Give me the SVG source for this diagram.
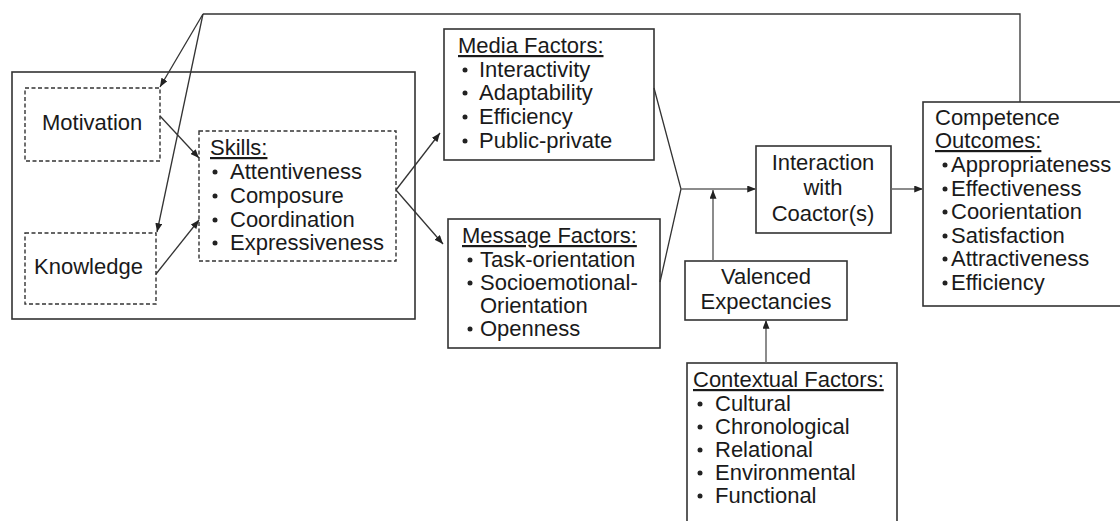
<svg xmlns="http://www.w3.org/2000/svg" width="1120" height="521" viewBox="0 0 1120 521">
<defs>
<style>
.t{font-family:"Liberation Sans",Arial,sans-serif;font-size:22px;fill:#1a1a1a}
.u{text-decoration:underline}
.c{text-anchor:middle}
.box{fill:#fff;stroke:#333;stroke-width:1.6}
.dbox{fill:#fff;stroke:#333;stroke-width:1.4;stroke-dasharray:4 2.5}
.ln{fill:none;stroke:#333;stroke-width:1.3}
.lg{fill:none;stroke:#666;stroke-width:1.5}
.b{fill:#222}
</style>
<marker id="ah" viewBox="0 0 10 8" refX="10" refY="4" markerWidth="9" markerHeight="7" markerUnits="userSpaceOnUse" orient="auto">
<path d="M0,0 L10,4 L0,8 z" fill="#222"/>
</marker>
</defs>
<rect width="1120" height="521" fill="#fff"/>

<g id="outer">
<rect class="box" x="12" y="72" width="403" height="247"/>
</g>

<g id="motivation">
<rect class="dbox" x="25" y="88" width="135" height="73"/>
<text class="t" x="42" y="130">Motivation</text>
</g>

<g id="knowledge">
<rect class="dbox" x="25" y="233" width="131" height="71"/>
<text class="t" x="34" y="274">Knowledge</text>
</g>

<g id="skills">
<rect class="dbox" x="199" y="131" width="197" height="130"/>
<text class="t u" x="210" y="155">Skills:</text>
<circle class="b" cx="215" cy="172" r="2.5"/><text class="t" x="230" y="179">Attentiveness</text>
<circle class="b" cx="215" cy="196" r="2.5"/><text class="t" x="230" y="203">Composure</text>
<circle class="b" cx="215" cy="220" r="2.5"/><text class="t" x="230" y="227">Coordination</text>
<circle class="b" cx="215" cy="243" r="2.5"/><text class="t" x="230" y="250">Expressiveness</text>
</g>

<g id="media">
<rect class="box" x="444" y="29" width="210" height="131"/>
<text class="t u" x="458" y="53">Media Factors:</text>
<circle class="b" cx="465" cy="70" r="2.5"/><text class="t" x="479" y="77">Interactivity</text>
<circle class="b" cx="465" cy="93" r="2.5"/><text class="t" x="479" y="100">Adaptability</text>
<circle class="b" cx="465" cy="117" r="2.5"/><text class="t" x="479" y="124">Efficiency</text>
<circle class="b" cx="465" cy="141" r="2.5"/><text class="t" x="479" y="148">Public-private</text>
</g>

<g id="message">
<rect class="box" x="448" y="219" width="212" height="129"/>
<text class="t u" x="462" y="243">Message Factors:</text>
<circle class="b" cx="470" cy="260" r="2.5"/><text class="t" x="480" y="267">Task-orientation</text>
<circle class="b" cx="470" cy="283" r="2.5"/><text class="t" x="480" y="290">Socioemotional-</text>
<text class="t" x="480" y="313">Orientation</text>
<circle class="b" cx="470" cy="329" r="2.5"/><text class="t" x="480" y="336">Openness</text>
</g>

<g id="interaction">
<rect class="box" x="756" y="146" width="135" height="87"/>
<text class="t c" x="823" y="170">Interaction</text>
<text class="t c" x="823" y="195">with</text>
<text class="t c" x="823" y="221">Coactor(s)</text>
</g>

<g id="valenced">
<rect class="box" x="685" y="261" width="162" height="59"/>
<text class="t c" x="766" y="284">Valenced</text>
<text class="t c" x="766" y="309">Expectancies</text>
</g>

<g id="contextual">
<rect class="box" x="687" y="363" width="210" height="170"/>
<text class="t u" x="693" y="387">Contextual Factors:</text>
<circle class="b" cx="700" cy="404" r="2.5"/><text class="t" x="715" y="411">Cultural</text>
<circle class="b" cx="700" cy="427" r="2.5"/><text class="t" x="715" y="434">Chronological</text>
<circle class="b" cx="700" cy="450" r="2.5"/><text class="t" x="715" y="457">Relational</text>
<circle class="b" cx="700" cy="473" r="2.5"/><text class="t" x="715" y="480">Environmental</text>
<circle class="b" cx="700" cy="496" r="2.5"/><text class="t" x="715" y="503">Functional</text>
</g>

<g id="competence">
<rect class="box" x="923" y="102" width="200" height="204"/>
<text class="t" x="935" y="125">Competence</text>
<text class="t u" x="935" y="148">Outcomes:</text>
<circle class="b" cx="945" cy="165" r="2.5"/><text class="t" x="951" y="172">Appropriateness</text>
<circle class="b" cx="945" cy="189" r="2.5"/><text class="t" x="951" y="196">Effectiveness</text>
<circle class="b" cx="945" cy="212" r="2.5"/><text class="t" x="951" y="219">Coorientation</text>
<circle class="b" cx="945" cy="236" r="2.5"/><text class="t" x="951" y="243">Satisfaction</text>
<circle class="b" cx="945" cy="259" r="2.5"/><text class="t" x="951" y="266">Attractiveness</text>
<circle class="b" cx="945" cy="283" r="2.5"/><text class="t" x="951" y="290">Efficiency</text>
</g>

<g id="connectors">
<polyline class="ln" points="203,14 1020,14 1020,102"/>
<line class="ln" x1="203" y1="14" x2="160" y2="87" marker-end="url(#ah)"/>
<line class="ln" x1="203" y1="14" x2="157" y2="232" marker-end="url(#ah)"/>
<line class="ln" x1="160" y1="116" x2="199" y2="158" marker-end="url(#ah)"/>
<line class="ln" x1="156" y1="274" x2="199" y2="220" marker-end="url(#ah)"/>
<line class="ln" x1="396" y1="190" x2="440" y2="133" marker-end="url(#ah)"/>
<line class="ln" x1="396" y1="190" x2="443" y2="244" marker-end="url(#ah)"/>
<polyline class="ln" points="654,88 681,189 660,282"/>
<line class="lg" x1="681" y1="189" x2="756" y2="189" marker-end="url(#ah)"/>
<line class="lg" x1="713" y1="261" x2="713" y2="190" marker-end="url(#ah)"/>
<line class="lg" x1="891" y1="189" x2="923" y2="189" marker-end="url(#ah)"/>
<line class="lg" x1="766" y1="363" x2="766" y2="320" marker-end="url(#ah)"/>
</g>
</svg>
